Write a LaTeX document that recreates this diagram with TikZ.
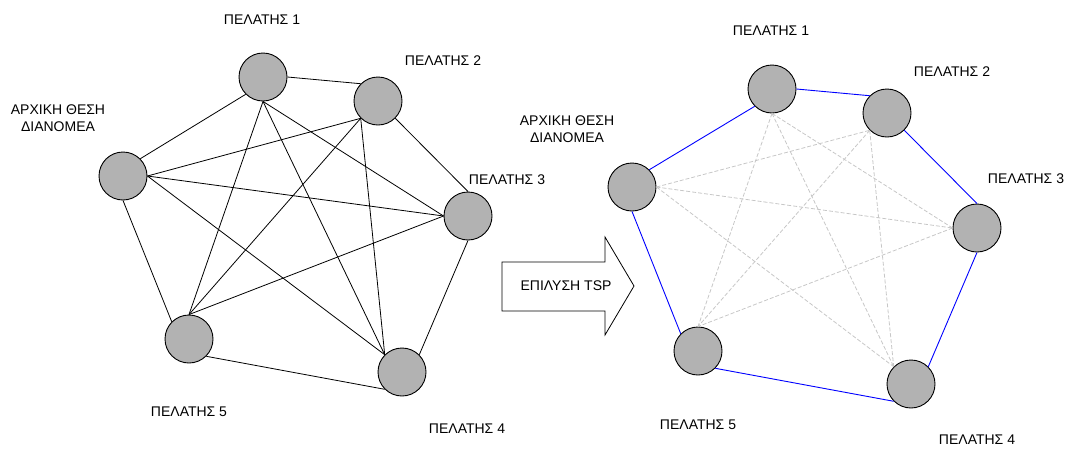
\documentclass[tikz,border=0pt]{standalone}
\usepackage{fontspec}
\setmainfont{Liberation Sans}
\usepackage{xcolor}

\begin{document}
\begin{tikzpicture}[x=1pt,y=-1pt,
	client/.style={circle, draw=black, fill=black!30, minimum size=48pt, inner sep=0pt, line width=0.9pt},
	lbl/.style={font=\fontsize{14}{17.5}\selectfont, align=center, inner sep=0pt},
	edge/.style={black, line width=0.8pt},
	tour/.style={blue, line width=0.9pt},
	other/.style={black!22, dash pattern=on 4pt off 2pt, line width=0.8pt}]
	
	% Parameters
	\def\alledges{s.north east/1.south west, s.east/2.south west, s.east/3.west, s.east/4.north west, s.south/5.north west, 1.east/2.north west, 1.south/5.north, 1.south/4.north west, 1.south/3.west, 2.south west/5.north, 2.south west/4.north west, 2.south east/3.north, 3.west/5.north, 3.south/4.north east, 5.south east/4.south west}
	\def\dashedges{s.east/2.south west, s.east/3.west, s.east/4.north west, 1.south/5.north, 1.south/4.north west, 1.south/3.west, 2.south west/5.north, 2.south west/4.north west, 3.west/5.north}
	\def\touredges{s.north east/1.south west, 1.east/2.north west, 2.south east/3.north, 3.south/4.north east, 5.south east/4.south west, s.south/5.north west}
	
	\useasboundingbox (0,0) rectangle (1070,448);
	
	% left graph: clients
	\node[client] (ls) at (123,176) {};
	\node[client] (l1) at (263,77) {};
	\node[client] (l2) at (378,101) {};
	\node[client] (l3) at (468,216) {};
	\node[client] (l4) at (402,372) {};
	\node[client] (l5) at (189,339) {};
	
	% left graph: every pair
	\foreach \a/\b in \alledges {
		\draw[edge] (l\a) -- (l\b);
	}
	
	% left labels
	\node[lbl] (tls) at (58,118) {ΑΡΧΙΚΗ ΘΕΣΗ\\ΔΙΑΝΟΜΕΑ};
	\node[lbl] (tl1) at (262,20) {ΠΕΛΑΤΗΣ 1};
	\node[lbl] (tl2) at (443,61) {ΠΕΛΑΤΗΣ 2};
	\node[lbl] (tl3) at (507,180) {ΠΕΛΑΤΗΣ 3};
	\node[lbl] (tl4) at (467,429) {ΠΕΛΑΤΗΣ 4};
	\node[lbl] (tl5) at (189,412) {ΠΕΛΑΤΗΣ 5};
	
	% solve arrow
	\draw[line width=0.8pt] (502,262) -- (605,262) -- (605,237) -- (634,286) -- (605,335) -- (605,311) -- (502,311) -- cycle;
	\node[lbl] (solve) at (566,286) {ΕΠΙΛΥΣΗ TSP};
	
	% right graph: clients
	\node[client] (rs) at (632,187) {};
	\node[client] (r1) at (772,89) {};
	\node[client] (r2) at (887,113) {};
	\node[client] (r3) at (977,228) {};
	\node[client] (r4) at (911,384) {};
	\node[client] (r5) at (698,351) {};
	
	% unused pairs
	\foreach \a/\b in \dashedges {
		\draw[other] (r\a) -- (r\b);
	}
	% tour
	\foreach \a/\b in \touredges {
		\draw[tour] (r\a) -- (r\b);
	}
	
	% right labels
	\node[lbl] (trs) at (567,129) {ΑΡΧΙΚΗ ΘΕΣΗ\\ΔΙΑΝΟΜΕΑ};
	\node[lbl] (tr1) at (771,31) {ΠΕΛΑΤΗΣ 1};
	\node[lbl] (tr2) at (952,72) {ΠΕΛΑΤΗΣ 2};
	\node[lbl] (tr3) at (1026,179) {ΠΕΛΑΤΗΣ 3};
	\node[lbl] (tr4) at (977,440) {ΠΕΛΑΤΗΣ 4};
	\node[lbl] (tr5) at (698,425) {ΠΕΛΑΤΗΣ 5};
	
\end{tikzpicture}
\end{document}
